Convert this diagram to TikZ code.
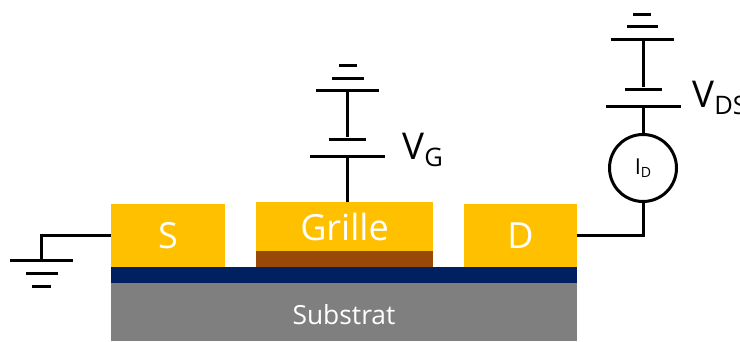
\documentclass[tikz,border=0pt]{standalone}
\usepackage{fontspec}
\setmainfont{Open Sans}
\usetikzlibrary{positioning}

\definecolor{contact}{HTML}{FFC000}
\definecolor{oxide}{HTML}{002060}
\definecolor{substrate}{HTML}{7F7F7F}
\definecolor{dielectric}{HTML}{984807}

\newcommand{\bigsub}[2]{#1\raisebox{-1.4mm}{\fontsize{14.5}{15}\selectfont #2}}

\tikzset{
  layer/.style={inner sep=0, fill=#1},
  plate/.style={inner sep=0, fill=black, minimum height=.6mm, minimum width=#1},
  wire/.style={line width=.6mm},
  voltage/.style={anchor=base west, inner sep=0, font=\fontsize{21}{22}\selectfont}
}

\begin{document}
\begin{tikzpicture}[x=.2mm, y=-.2mm]
      \useasboundingbox (0,0) rectangle (740,341);

      \node[layer=substrate, minimum width=93.2mm, minimum height=11.6mm] (sub) at (344,312) {};
      \node[layer=oxide, minimum width=93.2mm, minimum height=3.2mm] (ox) at (344,275) {};
      \node[layer=contact, minimum width=22.8mm, minimum height=12.6mm, text=white, font=\fontsize{20.5}{21}\selectfont] (s) at (168,235.5) {S};
      \node[layer=contact, minimum width=22.6mm, minimum height=12.6mm, text=white, font=\fontsize{20.5}{21}\selectfont] (d) at (520.5,235.5) {D};
      \node[layer=contact, minimum width=35.4mm, minimum height=9.8mm, text=white, font=\fontsize{20.5}{21}\selectfont] (grille) at (344.5,226.5) {Grille};
      \node[layer=dielectric, minimum width=35.4mm, minimum height=3.2mm] (diel) at (344.5,259) {};
      \node[text=white, inner sep=0, font=\fontsize{15}{16}\selectfont] (subtext) at (344,315) {Substrat};

      % masse source
      \node[plate=12.6mm] (gs1) at (41.5,260.5) {};
      \node[plate=6.4mm] (gs2) at (42,273.5) {};
      \node[plate=3.8mm] (gs3) at (41.5,286.5) {};
      \draw[wire] (s.west) -| (gs1.north);

      % grille
      \node[plate=15mm] (vg1) at (347.5,156) {};
      \node[plate=7.4mm] (vg2) at (347.5,139) {};
      \node[plate=12.6mm] (vg3) at (347.5,90) {};
      \node[plate=6.4mm] (vg4) at (348,78) {};
      \node[plate=3.6mm] (vg5) at (348,65.5) {};
      \draw[wire] (vg1) -- (vg1 |- grille.north);
      \draw[wire] (vg2) -- (vg3);
      \node[voltage] (vg) at (402,159) {\bigsub{V}{G}};

      % drain
      \node[circle, draw, line width=.6mm, minimum size=13.4mm, inner sep=0, font=\fontsize{12.5}{13}\selectfont] (id) at (643,168) {I\raisebox{-.7mm}{\fontsize{8}{9}\selectfont D}};
      \node[plate=15mm] (vd1) at (643,106) {};
      \node[plate=7.4mm] (vd2) at (643,89) {};
      \node[plate=12.6mm] (vd3) at (642,39) {};
      \node[plate=6.2mm] (vd4) at (642,26) {};
      \node[plate=3.6mm] (vd5) at (642,14) {};
      \draw[wire] (d.east) -| (id.south);
      \draw[wire] (id.north) -- (vd1);
      \draw[wire] (vd2) -- (vd2 |- vd3);
      \node[voltage] (vds) at (692,107) {\bigsub{V}{DS}};
    \end{tikzpicture}
\end{document}
